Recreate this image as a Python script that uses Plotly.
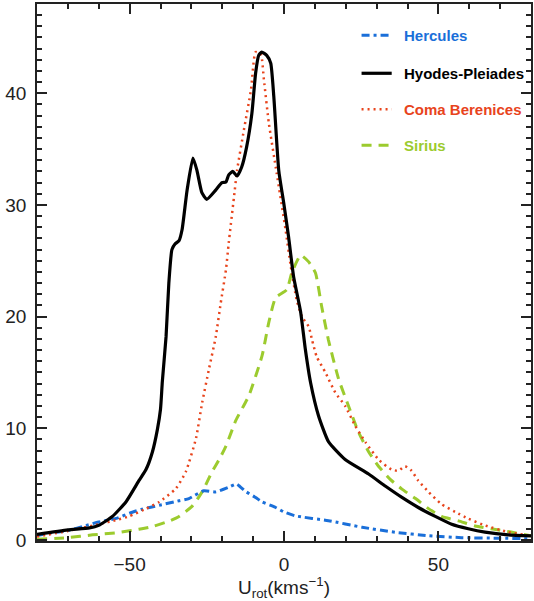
import plotly.graph_objects as go

# Rotational velocity distributions of the moving groups (U_rot in km/s)
hyades_x = [-80, -70, -63, -60, -55.6, -51.2, -47, -44.7, -42.6, -41, -40, -39.4, -38.2,
            -37.3, -36.3, -35.3, -34, -33, -31.4, -29.5, -28.2, -26.6, -25, -22.2, -20.1,
            -18.8, -17.9, -16.6, -15.2, -13.7, -12.1, -10.4, -9.2, -8.2, -7.2, -5.6, -4.3,
            -3.3, -1.7, -0.1, 1.5, 3.1, 5.4, 6.9, 8.6, 11.2, 14.4, 19.8, 27.4, 32.9, 38.2,
            43.5, 49, 54.3, 59.7, 65.1, 72.6, 80]
hyades_y = [0.5, 0.9, 1.07, 1.3, 2.1, 3.4, 5.3, 6.3, 7.9, 9.9, 11.7, 14.2, 18.2,
            23.0, 26.0, 26.5, 26.8, 27.8, 31.3, 34.2, 33.1, 31.1, 30.5, 31.3, 32.0,
            32.05, 32.7, 33.0, 32.6, 33.4, 35.2, 38.2, 41.8, 43.4, 43.7, 43.4, 42.7,
            39.7, 33.1, 30.2, 27.1, 23.6, 20.4, 17.1, 14.1, 11.1, 8.8, 7.2, 5.9, 4.8, 3.8,
            2.9, 2.1, 1.4, 1.0, 0.7, 0.45, 0.36]

coma_x = [-80, -70, -60, -54, -50.2, -44.7, -40.4, -35, -31.8, -28.5, -26.5, -24.3,
          -22.1, -20.5, -18.8, -17.9, -16.2, -15.2, -13, -10.7, -9.2, -7.5, -6.5, -4.9,
          -2.4, 0.5, 2.2, 4.1, 5.8, 8, 9.1, 10.6, 13.4, 16.6, 19.8, 23.1, 26.4, 30.6,
          34.8, 37.1, 39.2, 41.3, 43.5, 46.8, 51, 55.5, 59.7, 65.1, 72.6, 80]
coma_y = [0.3, 0.8, 1.4, 1.8, 2.1, 2.8, 3.4, 4.6, 6.1, 9.1, 12.3, 15.3,
          18.2, 21.2, 24.2, 26.6, 30.7, 33.1, 36.7, 40.3, 43.7, 43.5, 41.2, 37.3,
          32.9, 27.8, 24.5, 21.5, 20.0, 19.1, 17.9, 16.4, 15.0, 13.2, 12.0, 10.2, 8.75, 7.2,
          6.3, 6.2, 6.6, 6.2, 5.3, 4.3, 3.2, 2.5, 1.9, 1.3, 0.7, 0.36]

sirius_x = [-80, -70, -62, -54, -47, -42.6, -37, -34, -29.8, -26.5, -23.3, -21, -18.8,
            -15.6, -11.4, -7.1, -4.9, -2.7, 0.9, 2.5, 5.4, 8, 10.2, 12.2, 14.4, 17.7,
            20.9, 24.2, 27.4, 30.6, 34.5, 38.2, 42.6, 46.8, 51, 56.5, 61.9, 67.1, 73.6, 80]
sirius_y = [0.05, 0.2, 0.45, 0.65, 0.95, 1.2, 1.7, 2.1, 3.0, 4.3, 6.1, 7.2, 8.4,
            10.7, 12.9, 16.5, 19.5, 21.7, 22.4, 23.9, 25.5, 24.9, 23.9, 20.9, 17.9, 14.4,
            12.0, 9.6, 7.9, 6.6, 5.4, 4.55, 3.7, 2.8, 2.1, 1.7, 1.25, 1.0, 0.7, 0.36]

hercules_x = [-80, -76, -70, -64, -60, -54, -50, -46, -40.4, -34, -30.8, -26, -22,
              -18, -15.4, -12.5, -9.2, -7.1, -2.7, 0, 3.7, 14.4, 25.3, 36, 46.8, 57.5,
              70, 80]
hercules_y = [0.38, 0.6, 0.83, 1.3, 1.6, 1.95, 2.4, 2.75, 3.1, 3.5, 3.7, 4.4, 4.3,
              4.7, 5.0, 4.35, 3.8, 3.4, 2.9, 2.5, 2.15, 1.72, 1.13, 0.68, 0.38, 0.2,
              0.15, 0.1]

BLUE = "#1a6fd9"
RED = "#e8441c"
GREEN = "#9ccb2e"
BLACK = "#000000"

series = [
    ("Hercules", hercules_x, hercules_y, BLUE, 3, "8px,4px,3px,4px"),
    ("Hyodes-Pleiades", hyades_x, hyades_y, BLACK, 3.2, "solid"),
    ("Coma Berenices", coma_x, coma_y, RED, 2.5, "2px,4px"),
    ("Sirius", sirius_x, sirius_y, GREEN, 3, "10px,7px"),
]

fig = go.Figure()
draw_order = [3, 0, 2, 1]
for i in draw_order:
    name, xs, ys, color, width, dash = series[i]
    fig.add_trace(go.Scatter(
        x=xs, y=ys, mode="lines", name=name,
        line=dict(color=color, width=width, dash=dash, shape="spline", smoothing=0.5),
        showlegend=False,
    ))

# Hand-built legend in the upper right corner
legend_y = [0.942, 0.871, 0.804, 0.737]
x0, x1, xt = 0.657, 0.718, 0.738
for (name, _, _, color, width, dash), ly in zip(series, legend_y):
    fig.add_shape(type="line", xref="paper", yref="paper",
                  x0=x0, x1=x1, y0=ly, y1=ly,
                  line=dict(color=color, width=width, dash=dash))
    fig.add_annotation(xref="paper", yref="paper", x=xt, y=ly, text="<b>%s</b>" % name,
                       showarrow=False, xanchor="left", yanchor="middle",
                       font=dict(family="Liberation Sans, Arial, sans-serif", size=15,
                                 color=color))

axis_common = dict(
    showgrid=False, zeroline=False, showline=True, mirror="ticks",
    linecolor="#222222", linewidth=1.5,
    ticks="inside", ticklen=10, tickwidth=1.5, tickcolor="#222222",
    tickfont=dict(family="Liberation Sans, Arial, sans-serif", size=19, color="#222222"),
)

fig.update_xaxes(
    range=[-80, 80], tickvals=[-50, 0, 50], ticktext=["\u221250", "0", "50"],
    minor=dict(dtick=10, tick0=0, ticks="inside", ticklen=5, tickwidth=1.5,
               tickcolor="#222222"),
    ticklabelstandoff=5,
    title=dict(text="U<sub>rot</sub>(kms<sup>\u22121</sup>)", standoff=6,
               font=dict(family="Liberation Sans, Arial, sans-serif", size=19,
                         color="#222222")),
    **axis_common,
)
fig.update_yaxes(
    range=[-0.1, 48], tickvals=[0, 10, 20, 30, 40],
    minor=dict(dtick=1, tick0=0, ticks="inside", ticklen=5, tickwidth=1.5,
               tickcolor="#222222"),
    ticklabelstandoff=5,
    **axis_common,
)

fig.update_layout(
    width=534, height=601,
    margin=dict(l=37, r=1, t=4, b=60),
    plot_bgcolor="white", paper_bgcolor="white",
    showlegend=False,
)

fig.write_html("out.html")
